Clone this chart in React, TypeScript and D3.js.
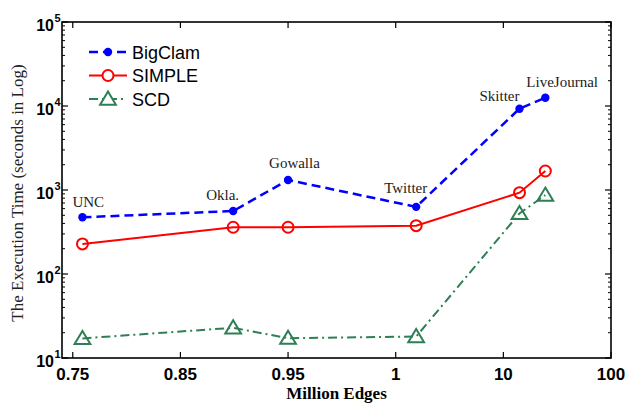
import React, { useEffect, useRef } from 'react'
import * as d3 from 'd3'

// x positions are in tick-slot units (0 = "0.75", 1 = "0.85", ... 5 = "100")
const tickLabels = ['0.75', '0.85', '0.95', '1', '10', '100']
const datasets = ['UNC', 'Okla.', 'Gowalla', 'Twitter', 'Skitter', 'LiveJournal']
const xSlots = [0.09, 1.49, 2.0, 3.19, 4.15, 4.39]
const bigclam = [473, 562, 1315, 630, 9290, 12560]
const simple = [228, 360, 360, 376, 929, 1683]
const scd = [17.1, 22.9, 17.2, 18, 526, 870]
const yTickExps = [1, 2, 3, 4, 5]

export default function App() {
  const ref = useRef<SVGSVGElement>(null)

  useEffect(() => {
    document.body.style.margin = '0'
    const svg = d3.select(ref.current)
    svg.selectAll('*').remove()

    const left = 62, right = 611, top = 22, bottom = 358
    const x = d3.scaleLinear().domain([-0.1, 5]).range([left, right])
    const y = d3.scaleLog().domain([10, 100000]).range([bottom, top])

    const g = svg.append('g')

    // minor log ticks, left and right
    const minors: number[] = []
    for (let e = 1; e < 5; e++) for (let m = 2; m <= 9; m++) minors.push(m * Math.pow(10, e))
    minors.forEach(v => {
      g.append('line').attr('x1', left).attr('x2', left + 3).attr('y1', y(v)).attr('y2', y(v))
        .attr('stroke', '#000').attr('stroke-width', 1)
      g.append('line').attr('x1', right).attr('x2', right - 3).attr('y1', y(v)).attr('y2', y(v))
        .attr('stroke', '#000').attr('stroke-width', 1)
    })
    // major y ticks
    yTickExps.forEach(e => {
      const v = Math.pow(10, e)
      g.append('line').attr('x1', left).attr('x2', left + 6).attr('y1', y(v)).attr('y2', y(v))
        .attr('stroke', '#000').attr('stroke-width', 1.2)
      g.append('line').attr('x1', right).attr('x2', right - 6).attr('y1', y(v)).attr('y2', y(v))
        .attr('stroke', '#000').attr('stroke-width', 1.2)
      const t = g.append('text').attr('x', 54).attr('y', y(v) + 9)
        .attr('text-anchor', 'end').attr('font-family', 'Liberation Sans, Arial, sans-serif')
        .attr('font-weight', 'bold').attr('font-size', 16).attr('fill', '#000')
      t.text('10')
      g.append('text').attr('x', 54.5).attr('y', y(v) + 0)
        .attr('font-family', 'Liberation Sans, Arial, sans-serif')
        .attr('font-weight', 'bold').attr('font-size', 11).attr('fill', '#000')
        .text(String(e))
    })
    // x ticks
    tickLabels.forEach((lab, i) => {
      g.append('line').attr('x1', x(i)).attr('x2', x(i)).attr('y1', bottom).attr('y2', bottom - 6)
        .attr('stroke', '#000').attr('stroke-width', 1.2)
      g.append('line').attr('x1', x(i)).attr('x2', x(i)).attr('y1', top).attr('y2', top + 6)
        .attr('stroke', '#000').attr('stroke-width', 1.2)
      g.append('text').attr('x', x(i)).attr('y', 380).attr('text-anchor', 'middle')
        .attr('font-family', 'Liberation Sans, Arial, sans-serif')
        .attr('font-weight', 'bold').attr('font-size', 17).attr('fill', '#000')
        .text(lab)
    })
    // frame
    g.append('rect').attr('x', left).attr('y', top).attr('width', right - left).attr('height', bottom - top)
      .attr('fill', 'none').attr('stroke', '#000').attr('stroke-width', 1.6)

    // axis titles
    g.append('text').attr('x', (left + right) / 2).attr('y', 399).attr('text-anchor', 'middle')
      .attr('font-family', 'Liberation Serif, Times New Roman, serif').attr('font-weight', 'bold')
      .attr('font-size', 17).text('Million Edges')
    g.append('text').attr('transform', 'translate(23,193) rotate(-90)').attr('text-anchor', 'middle')
      .attr('font-family', 'Liberation Serif, Times New Roman, serif')
      .attr('font-size', 17).attr('fill', '#222').text('The Execution Time (seconds in Log)')

    const line = (vals: number[]) =>
      d3.line<number>().x((_, i) => x(xSlots[i])).y(d => y(d))(vals)

    const blue = '#0000ff', red = '#ff0000', green = '#2e7f55'
    const tri = (cx: number, cy: number, s: number) =>
      `M${cx},${cy - s}L${cx + s * 1.05},${cy + s * 0.75}L${cx - s * 1.05},${cy + s * 0.75}Z`

    // SCD
    g.append('path').attr('d', line(scd)).attr('fill', 'none').attr('stroke', green)
      .attr('stroke-width', 2).attr('stroke-dasharray', '9,4,2,4')
    scd.forEach((v, i) => {
      g.append('path').attr('d', tri(x(xSlots[i]), y(v), 7.5)).attr('fill', 'none')
        .attr('stroke', green).attr('stroke-width', 2)
    })
    // SIMPLE
    g.append('path').attr('d', line(simple)).attr('fill', 'none').attr('stroke', red).attr('stroke-width', 2)
    simple.forEach((v, i) => {
      g.append('circle').attr('cx', x(xSlots[i])).attr('cy', y(v)).attr('r', 5.5)
        .attr('fill', 'none').attr('stroke', red).attr('stroke-width', 2)
    })
    // BigClam
    g.append('path').attr('d', line(bigclam)).attr('fill', 'none').attr('stroke', blue)
      .attr('stroke-width', 2.5).attr('stroke-dasharray', '9,5')
    bigclam.forEach((v, i) => {
      g.append('circle').attr('cx', x(xSlots[i])).attr('cy', y(v)).attr('r', 4.2).attr('fill', blue)
    })

    // dataset labels above BigClam points
    const labOff = [[-10, -10], [-27, -11], [-19, -12], [-32, -14], [-40, -8], [-19, -11]]
    datasets.forEach((name, i) => {
      g.append('text').attr('x', x(xSlots[i]) + labOff[i][0]).attr('y', y(bigclam[i]) + labOff[i][1])
        .attr('font-family', 'Liberation Serif, Times New Roman, serif').attr('font-size', 15)
        .attr('fill', '#222').text(name)
    })

    // legend
    const leg = [
      { name: 'BigClam', color: blue, dash: '9,5', w: 2.5, mark: 'dot' },
      { name: 'SIMPLE', color: red, dash: null, w: 2, mark: 'circle' },
      { name: 'SCD', color: green, dash: '9,4,2,4', w: 2, mark: 'tri' }
    ]
    leg.forEach((d, i) => {
      const ly = 52 + i * 23.5
      const l = g.append('line').attr('x1', 89).attr('x2', 127).attr('y1', ly).attr('y2', ly)
        .attr('stroke', d.color).attr('stroke-width', d.w)
      if (d.dash) l.attr('stroke-dasharray', d.dash)
      if (d.mark === 'dot') g.append('circle').attr('cx', 108).attr('cy', ly).attr('r', 4.2).attr('fill', d.color)
      if (d.mark === 'circle') g.append('circle').attr('cx', 108).attr('cy', ly).attr('r', 5.5)
        .attr('fill', '#fff').attr('stroke', d.color).attr('stroke-width', 2)
      if (d.mark === 'tri') g.append('path').attr('d', tri(108, ly, 7.5)).attr('fill', '#fff')
        .attr('stroke', d.color).attr('stroke-width', 2)
      g.append('text').attr('x', 132).attr('y', ly + 6.5)
        .attr('font-family', 'Liberation Sans, Arial, sans-serif').attr('font-size', 18)
        .attr('fill', '#000').text(d.name)
    })
  }, [])

  return (
    <div>
      <svg ref={ref} width={628} height={406} style={{ display: 'block', background: '#fff' }}></svg>
    </div>
  )
}
